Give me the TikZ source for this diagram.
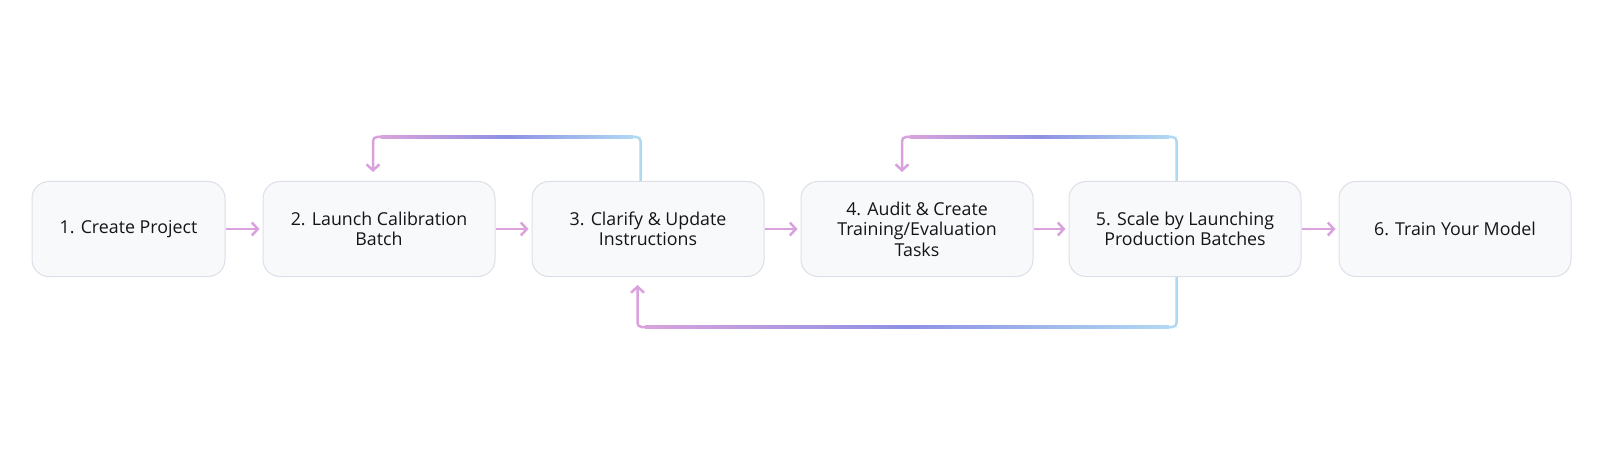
\documentclass[tikz,border=0pt]{standalone}
\usepackage{fontspec}
\setmainfont{Open Sans}
\usetikzlibrary{positioning,arrows.meta,calc}

\definecolor{boxfill}{HTML}{F8F9FB}
\definecolor{boxline}{HTML}{DCDFE8}
\definecolor{flowpink}{HTML}{D9A2DD}
\definecolor{loopviolet}{HTML}{8E90E4}
\definecolor{loopblue}{HTML}{AFD9F3}
\definecolor{textdark}{HTML}{151518}

\begin{document}
\begin{tikzpicture}[x=1pt,y=-1pt,
    stepbox/.style={draw=boxline, line width=1pt, fill=boxfill, rounded corners=17pt,
        minimum width=232pt, minimum height=95pt, inner sep=0pt, align=center,
        text=textdark, font=\fontsize{17.8}{20.5}\selectfont},
    flow/.style={draw=flowpink, line width=2.5pt, -{Straight Barb[length=6pt,width=13pt]},
        shorten >=3pt},
    loopline/.style={line width=2.5pt, rounded corners=4pt},
    looptip/.style={-{Straight Barb[length=6pt,width=13pt]}}]
    \useasboundingbox (0,0) rectangle (1600,465);

    % the six steps
    \node[stepbox, minimum width=193pt] (b1) at (128.5,229) {1. Create Project};
    \node[stepbox, right=37pt of b1] (b2) {2. Launch Calibration\\Batch};
    \node[stepbox, right=36pt of b2] (b3) {3. Clarify \& Update\\Instructions};
    \node[stepbox, right=36pt of b3] (b4) {4. Audit \& Create\\Training/Evaluation\\Tasks};
    \node[stepbox, right=35pt of b4] (b5) {5. Scale by Launching\\Production Batches};
    \node[stepbox, right=37pt of b5] (b6) {6. Train Your Model};

    \draw[flow] (b1) -- (b2);
    \draw[flow] (b2) -- (b3);
    \draw[flow] (b3) -- (b4);
    \draw[flow] (b4) -- (b5);
    \draw[flow] (b5) -- (b6);

    % loop 3 -> 2 (over the top)
    \coordinate (c3) at ($(b3.north)+(-7.5,-44)$);
    \coordinate (c2) at ($(b2.north)+(-6,-44)$);
    \draw[loopline, loopblue] ($(b3.north)+(-7.5,0)$) |- ([xshift=-8pt]c3);
    \draw[loopline, flowpink, looptip] ([xshift=8pt]c2) -| ($(b2.north)+(-6,-9)$);
    \shade[left color=flowpink, right color=loopblue, middle color=loopviolet]
        ([xshift=7.5pt,yshift=-1.25pt]c2) rectangle ([xshift=-7.5pt,yshift=1.25pt]c3);

    % loop 5 -> 4 (over the top)
    \coordinate (c5) at ($(b5.north)+(-8.5,-44)$);
    \coordinate (c4) at ($(b4.north)+(-15,-44)$);
    \draw[loopline, loopblue] ($(b5.north)+(-8.5,0)$) |- ([xshift=-8pt]c5);
    \draw[loopline, flowpink, looptip] ([xshift=8pt]c4) -| ($(b4.north)+(-15,-9)$);
    \shade[left color=flowpink, right color=loopblue, middle color=loopviolet]
        ([xshift=7.5pt,yshift=-1.25pt]c4) rectangle ([xshift=-7.5pt,yshift=1.25pt]c5);

    % loop 5 -> 3 (underneath)
    \coordinate (d5) at ($(b5.south)+(-8.5,50)$);
    \coordinate (d3) at ($(b3.south)+(-10.5,50)$);
    \draw[loopline, loopblue] ($(b5.south)+(-8.5,0)$) |- ([xshift=-8pt]d5);
    \draw[loopline, flowpink, looptip] ([xshift=8pt]d3) -| ($(b3.south)+(-10.5,8)$);
    \shade[left color=flowpink, right color=loopblue, middle color=loopviolet]
        ([xshift=7.5pt,yshift=-1.25pt]d3) rectangle ([xshift=-7.5pt,yshift=1.25pt]d5);
\end{tikzpicture}
\end{document}
